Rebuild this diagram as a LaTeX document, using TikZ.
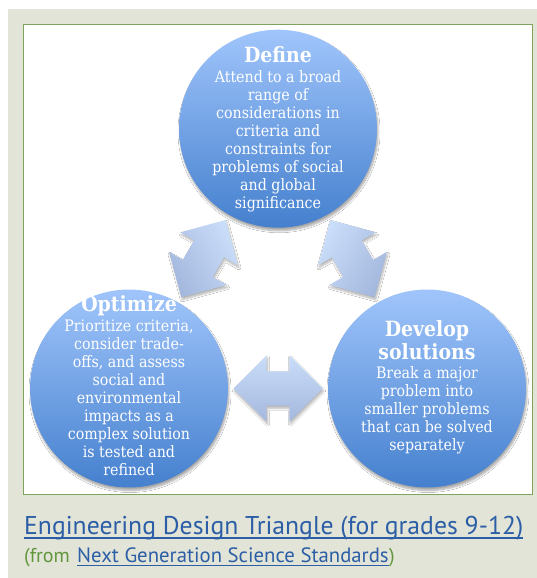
\documentclass[tikz,border=0pt]{standalone}
\usepackage{fontspec}
\usepackage{graphicx}
\newfontfamily\bubblefont{DejaVu Serif Condensed}
\newfontfamily\capfont{PT Sans}
\usetikzlibrary{shapes.arrows,shadows.blur,calc}
\definecolor{bgGray}{HTML}{E1E4D7}
\definecolor{frameGreen}{HTML}{7FA35C}
\definecolor{bubbleTop}{HTML}{A0C5FB}
\definecolor{bubbleBottom}{HTML}{4580CE}
\definecolor{arrowTop}{HTML}{CADDF9}
\definecolor{arrowBottom}{HTML}{A4B8DE}
\definecolor{linkBlue}{HTML}{2B5EA6}
\definecolor{fromGreen}{HTML}{62963C}
\tikzset{
  bubble/.style={circle, minimum size=198bp, inner sep=0pt,
    top color=bubbleTop, bottom color=bubbleBottom,
    blur shadow={shadow xshift=1bp, shadow yshift=-3bp, shadow opacity=35, shadow blur steps=8, shadow blur radius=2bp}},
  headtext/.style={text=white, inner sep=0pt, align=center,
    font=\bubblefont\bfseries\fontsize{21bp}{23.3bp}\selectfont},
  bodytext/.style={text=white, inner sep=0pt, align=center,
    font=\bubblefont\fontsize{15.8bp}{18bp}\selectfont},
  dblarrow/.style={double arrow, minimum height=89bp, minimum width=0pt,
    inner xsep=0pt, inner ysep=17bp, double arrow head extend=16bp,
    double arrow tip angle=90,
    top color=arrowTop, bottom color=arrowBottom, shading angle=#1, rotate=-#1,
    blur shadow={shadow xshift=1bp, shadow yshift=-2.5bp, shadow opacity=30, shadow blur steps=8, shadow blur radius=2bp}},
  captext/.style={inner sep=0pt, anchor=base west}
}
\begin{document}
\begin{tikzpicture}[x=1bp,y=-1bp]
\useasboundingbox (0,0) rectangle (537,578);
\fill[bgGray] (8,9) rectangle (537,578);
\draw[fill=white, draw=frameGreen, line width=1.5bp] (23.5,24.5) rectangle (532.5,494.5);

% circles
\node[bubble] (define) at (278,128.7) {};
\node[bubble] (optimize) at (129,388.5) {};
\node[bubble] (develop) at (427,388.5) {};

% texts
\node[headtext, anchor=base] (defineH) at (278,62.3) {Define};
\node[bodytext, anchor=north] (defineB) at (278,70.5) {Attend to a broad\\range of\\considerations in\\criteria and\\constraints for\\problems of social\\and global\\significance};

\node[headtext, anchor=base] (optimizeH) at (129,311) {Optimize};
\node[bodytext, anchor=north] (optimizeB) at (129,319.9) {Prioritize criteria,\\consider trade-\\offs, and assess\\social and\\environmental\\impacts as a\\complex solution\\is tested and\\refined};

\node[headtext, anchor=north] (developH) at (427,320.5) {Develop\\solutions};
\node[bodytext, anchor=north] (developB) at (427,366.5) {Break a major\\problem into\\smaller problems\\that can be solved\\separately};

% double arrows
\node[dblarrow=-60.17] (arrowL) at ($(optimize)!0.5!(define)$) {};
\node[dblarrow=60.17] (arrowR) at ($(develop)!0.5!(define)$) {};
\node[dblarrow=0] (arrowB) at ($(optimize)!0.5!(develop)$) {};

% caption
\node[captext, text=linkBlue, font=\capfont\fontsize{26bp}{30bp}\selectfont] (title) at (24,534.2) {\resizebox{499bp}{!}{Engineering Design Triangle (for grades 9-12)}};
\draw[linkBlue, line width=1.2bp] ($(title.base west)+(0,3.8)$) -- ($(title.base east)+(0,3.8)$);
\node[captext, text=fromGreen, font=\capfont\fontsize{20bp}{24bp}\selectfont] (from) at (24,562.7) {(from};
\node[captext, text=linkBlue, font=\capfont\fontsize{20bp}{24bp}\selectfont] (ngss) at (77,562.7) {\resizebox{311.5bp}{!}{Next Generation Science Standards}};
\node[captext, text=fromGreen, font=\capfont\fontsize{20bp}{24bp}\selectfont] (close) at (ngss.base east) {)};
\draw[linkBlue, line width=1bp] ($(ngss.base west)+(0,2.8)$) -- ($(ngss.base east)+(0,2.8)$);
\end{tikzpicture}
\end{document}
